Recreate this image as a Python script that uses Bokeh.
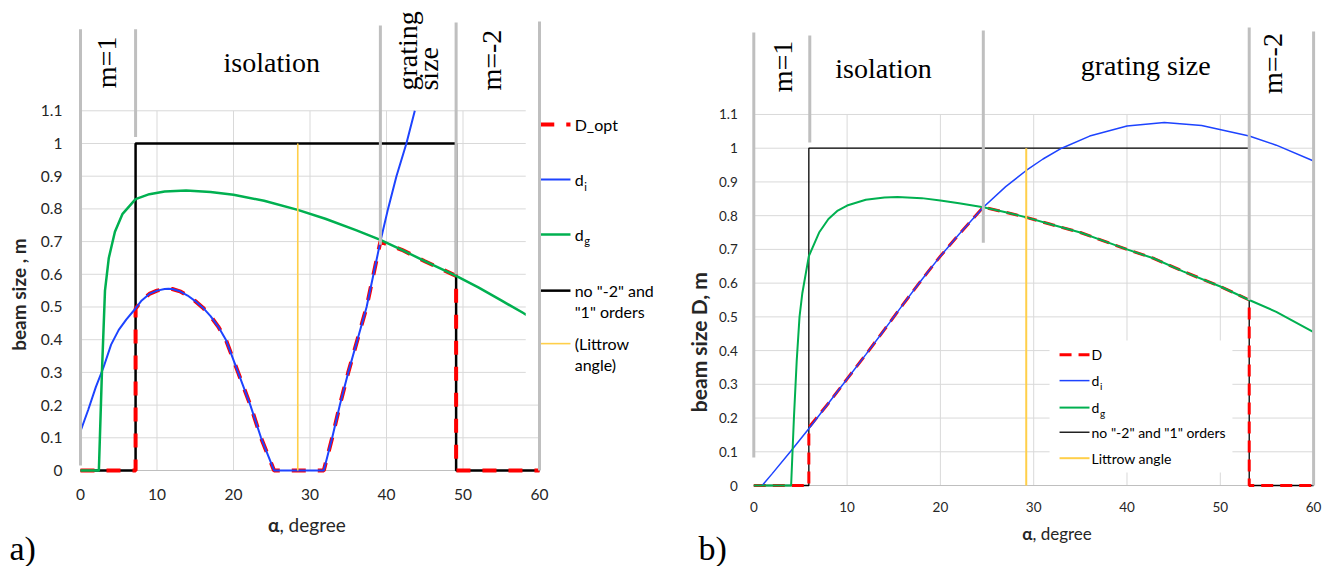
from bokeh.plotting import figure
from bokeh.layouts import row
from bokeh.models import FixedTicker, Range1d
from bokeh.embed import file_html
from bokeh.resources import INLINE
from bokeh.core.properties import value

SERIF = "Liberation Serif"
SANS = "Lato"

# ---------------- shared axis data ----------------
x_ticks = [0, 10, 20, 30, 40, 50, 60]
x_tick_labels = ["0", "10", "20", "30", "40", "50", "60"]
y_ticks = [0, 0.1, 0.2, 0.3, 0.4, 0.5, 0.6, 0.7, 0.8, 0.9, 1.0, 1.1]
y_tick_labels = ["0", "0.1", "0.2", "0.3", "0.4", "0.5", "0.6", "0.7", "0.8", "0.9", "1", "1.1"]
x_title = ["\u03b1", ", degree"]

# ---------------- panel a ----------------
a_di_alpha = [0, 1, 2, 3, 4, 5, 6, 7, 8, 9, 10, 11, 11.5, 12, 13, 14, 15, 16, 17, 18, 19, 20.6, 22.2,
              23.6, 25.3, 31.8, 32.9, 33.9, 35, 36.2, 37.4, 38.3, 39.2, 40.2, 41.3, 42.6, 43.7]
a_di = [0.12, 0.185, 0.255, 0.315, 0.385, 0.43, 0.462, 0.49, 0.52, 0.54, 0.55, 0.555, 0.556, 0.555,
        0.548, 0.535, 0.518, 0.498, 0.472, 0.44, 0.4, 0.3, 0.2, 0.1, 0, 0, 0.1, 0.2, 0.3, 0.4, 0.5,
        0.6, 0.7, 0.8, 0.9, 1.0, 1.1]
a_dg_alpha = [0, 2.4, 2.8, 3.2, 3.7, 4.5, 5.5, 7.2, 9, 11, 13.8, 17, 20, 24, 28.4, 32, 36, 39.2, 42,
              45, 49.1, 52, 55, 58, 60]
a_dg = [0, 0, 0.3, 0.55, 0.65, 0.73, 0.785, 0.83, 0.845, 0.853, 0.856, 0.852, 0.843, 0.825, 0.797,
        0.77, 0.735, 0.705, 0.675, 0.64, 0.595, 0.56, 0.52, 0.48, 0.455]
a_D_alpha = [0, 7.2, 7.2, 8, 9, 10, 11, 11.5, 12, 13, 14, 15, 16, 17, 18, 19, 20.6, 22.2, 23.6, 25.3,
             31.8, 32.9, 33.9, 35, 36.2, 37.4, 38.3, 39.2, 42, 45, 49.1, 49.1, 60]
a_D = [0, 0, 0.495, 0.52, 0.54, 0.55, 0.555, 0.556, 0.555, 0.548, 0.535, 0.518, 0.498, 0.472, 0.44,
       0.4, 0.3, 0.2, 0.1, 0, 0, 0.1, 0.2, 0.3, 0.4, 0.5, 0.6, 0.7, 0.675, 0.64, 0.595, 0, 0]
a_box_alpha = [0, 7.2, 7.2, 49.1, 49.1, 60]
a_box = [0, 0, 1, 1, 0, 0]
a_littrow = 28.4
a_region_alpha = [0, 7.2, 39.2, 49.1, 60]
a_region_bottom = [0.015, 1.02, 0.69, 0.6, 0]
a_region_top = [1.349, 1.349, 1.361, 1.37, 1.373]
a_legend_labels = [["D_opt"], ["d", "i"], ["d", "g"], ['no "-2" and', '"1" orders'], ["(Littrow", "angle)"]]

# ---------------- panel b ----------------
b_di_alpha = [0.9, 2, 4, 6, 8, 10, 12, 14, 16, 18, 20, 22, 24.6, 27, 29.2, 31, 33, 36, 40, 44, 48,
              53.1, 56, 60]
b_di = [0, 0.036, 0.103, 0.172, 0.244, 0.316, 0.388, 0.462, 0.537, 0.61, 0.68, 0.745, 0.825, 0.886,
        0.934, 0.968, 1.0, 1.036, 1.066, 1.076, 1.067, 1.036, 1.009, 0.962]
b_dg_alpha = [0, 4.0, 4.3, 4.6, 4.9, 5.2, 5.9, 7, 8, 9, 10, 12, 14, 15.4, 18, 20, 22, 24.6, 27, 29.2,
              32, 35, 38, 40, 42.9, 46, 50, 53.1, 56, 60]
b_dg = [0, 0, 0.2, 0.37, 0.5, 0.57, 0.68, 0.75, 0.79, 0.815, 0.83, 0.847, 0.854, 0.855, 0.852, 0.845,
        0.837, 0.825, 0.81, 0.795, 0.773, 0.75, 0.72, 0.7, 0.673, 0.635, 0.59, 0.55, 0.515, 0.455]
b_D_alpha = [0, 5.9, 5.9, 8, 10, 12, 14, 16, 18, 20, 22, 24.6, 27, 29.2, 32, 35, 38, 40, 42.9, 46, 50,
             53.1, 53.1, 60]
b_D = [0, 0, 0.172, 0.244, 0.316, 0.388, 0.462, 0.537, 0.61, 0.68, 0.745, 0.825, 0.81, 0.795, 0.773,
       0.75, 0.72, 0.7, 0.673, 0.635, 0.59, 0.55, 0, 0]
b_box_alpha = [0, 5.9, 5.9, 53.1, 53.1, 60]
b_box = [0, 0, 1, 1, 0, 0]
b_littrow = 29.2
b_region_alpha = [0, 6.0, 24.6, 53.1, 60]
b_region_bottom = [0.083, 1.017, 0.72, 0.55, 0]
b_region_top = [1.343, 1.334, 1.349, 1.358, 1.346]
b_legend_labels = [["D"], ["d", "i"], ["d", "g"], ['no "-2" and "1" orders'], ["Littrow angle"]]

RED, BLUE, GREEN, BLACK, YEL = "#ff0000", "#1d43ff", "#00b050", "#000000", "#ffcf4a"
GRAY, GRID = "#bfbfbf", "#d9d9d9"
H = 566

cfg_a = dict(
    w=680, xr=(-10.458, 78.431), yr=(-0.2936, 1.4373),
    tick_size="15.5px", ystand=18, xstand=19,
    di=(a_di_alpha, a_di), dg=(a_dg_alpha, a_dg), D=(a_D_alpha, a_D), box=(a_box_alpha, a_box),
    littrow=a_littrow, reg=(a_region_alpha, a_region_bottom, a_region_top),
    widths=dict(D=4, di=2, dg=2.5, box=2.5, lit=1.6), dash="14 12",
    leg_box=(58.2, 78.431, 0.266, 1.4373), leg_x0=60.1, leg_x1=64.05, leg_tx=64.6,
    leg_y=[1.058, 0.890, 0.722, 0.550, 0.388], leg_dy=0.064, leg_labels=a_legend_labels,
    leg_font="16px", sub_font="11px", sub_dx=1.24, sub_dy=-0.02,
    ytitle="beam size , m", ytitle_pos=(-8.1, 0.538), ytitle_size="19px",
    xtitle_split=26.0, xtitle_y=-0.165, xtitle_size="19px",
    tag="a)", tag_pos=(-9.28, -0.2385),
)
cfg_b = dict(
    w=652, xr=(-7.856, 62.026), yr=(-0.2401, 1.4379),
    tick_size="13.5px", ystand=16, xstand=16,
    di=(b_di_alpha, b_di), dg=(b_dg_alpha, b_dg), D=(b_D_alpha, b_D), box=(b_box_alpha, b_box),
    littrow=b_littrow, reg=(b_region_alpha, b_region_bottom, b_region_top),
    widths=dict(D=3, di=1.5, dg=2, box=1.3, lit=2), dash="12 7",
    leg_box=(31.7, 51.3, 0.0385, 0.43), leg_x0=32.77, leg_x1=35.98, leg_tx=36.2,
    leg_y=[0.388, 0.311, 0.231, 0.158, 0.081], leg_dy=0.06, leg_labels=b_legend_labels,
    leg_font="14px", sub_font="10px", sub_dx=0.91, sub_dy=-0.016,
    ytitle="beam size D, m", ytitle_pos=(-5.93, 0.425), ytitle_size="21px",
    xtitle_split=29.87, xtitle_y=-0.142, xtitle_size="17px",
    tag="b)", tag_pos=(-5.93, -0.1868),
)


def txt(p, x, y, t, size, align="center", angle=0.0, font=SERIF, baseline="middle", style="normal",
        color="#000000"):
    p.text(x=[x], y=[y], text=[t], angle=angle, text_align=align, text_baseline=baseline,
           text_font=value(font), text_font_size=size, text_color=color, text_font_style=style)


def panel(c, region_texts):
    p = figure(width=c["w"], height=H, x_range=Range1d(*c["xr"]), y_range=Range1d(*c["yr"]),
               output_backend="svg", toolbar_location=None,
               min_border_left=0, min_border_right=0, min_border_top=0, min_border_bottom=0)
    p.outline_line_color = None
    p.background_fill_color = "white"
    p.border_fill_color = "white"
    p.xgrid.visible = False
    p.ygrid.visible = False
    p.xaxis.ticker = FixedTicker(ticks=x_ticks)
    p.xaxis.major_label_overrides = dict(zip(x_ticks, x_tick_labels))
    p.yaxis.ticker = FixedTicker(ticks=y_ticks)
    p.yaxis.major_label_overrides = dict(zip(y_ticks, y_tick_labels))
    p.xaxis.fixed_location = 0
    p.yaxis.fixed_location = 0
    for ax in (p.xaxis[0], p.yaxis[0]):
        ax.axis_line_color = None
        ax.major_tick_line_color = None
        ax.minor_tick_line_color = None
        ax.major_tick_out = 0
        ax.major_tick_in = 0
        ax.major_label_text_font = SANS
        ax.major_label_text_font_size = c["tick_size"]
        ax.major_label_text_color = "#262626"
    p.xaxis[0].major_label_standoff = c["xstand"]
    p.yaxis[0].major_label_standoff = c["ystand"]

    x_lo, x_hi = x_ticks[0], x_ticks[-1]
    y_lo, y_hi = y_ticks[0], y_ticks[-1]
    gy = y_ticks[1:]
    gx = x_ticks[1:-1]
    p.segment(x0=[x_lo] * len(gy), y0=gy, x1=[x_hi] * len(gy), y1=gy, line_color=GRID, line_width=1)
    p.segment(x0=gx, y0=[y_lo] * len(gx), x1=gx, y1=[y_hi] * len(gx), line_color=GRID, line_width=1)
    p.segment(x0=[x_lo], y0=[y_lo], x1=[x_hi], y1=[y_lo], line_color=GRAY, line_width=1.2)

    w = c["widths"]
    p.line(*c["box"], line_color=BLACK, line_width=w["box"])
    p.line(*c["D"], line_color=RED, line_width=w["D"], line_dash=c["dash"])
    p.line(*c["di"], line_color=BLUE, line_width=w["di"])
    p.line(*c["dg"], line_color=GREEN, line_width=w["dg"])
    p.segment(x0=[c["littrow"]], y0=[0], x1=[c["littrow"]], y1=[1.0], line_color=YEL, line_width=w["lit"])

    # legend
    bl, br, bb, bt = c["leg_box"]
    p.quad(left=[bl], right=[br], bottom=[bb], top=[bt], fill_color="white", line_color=None)
    styles = [(RED, w["D"], c["dash"]), (BLUE, w["di"], "solid"), (GREEN, w["dg"], "solid"),
              (BLACK, w["box"], "solid"), (YEL, w["lit"], "solid")]
    for (col, lw, dash), yy, lab in zip(styles, c["leg_y"], c["leg_labels"]):
        p.segment(x0=[c["leg_x0"]], y0=[yy], x1=[c["leg_x1"]], y1=[yy], line_color=col, line_width=lw,
                  line_dash=dash)
        if len(lab) == 2 and lab[0] == "d":
            txt(p, c["leg_tx"], yy, lab[0], c["leg_font"], align="left", font=SANS)
            txt(p, c["leg_tx"] + c["sub_dx"], yy + c["sub_dy"], lab[1], c["sub_font"], align="left", font=SANS)
        else:
            for k, line in enumerate(lab):
                txt(p, c["leg_tx"], yy - k * c["leg_dy"], line, c["leg_font"], align="left", font=SANS)

    ra, rb, rt = c["reg"]
    p.segment(x0=ra, y0=rb, x1=ra, y1=rt, line_color=GRAY, line_width=3)

    for (tx, ty, tt, al, ang) in region_texts:
        txt(p, tx, ty, tt, "28px", align=al, angle=ang)

    # axis titles and panel tag
    yx, yy = c["ytitle_pos"]
    txt(p, yx, yy, c["ytitle"], c["ytitle_size"], angle=1.5708, font=SANS, style="bold", color="#262626")
    txt(p, c["xtitle_split"], c["xtitle_y"], x_title[0], c["xtitle_size"], align="right", font=SANS,
        style="bold", color="#262626")
    txt(p, c["xtitle_split"], c["xtitle_y"], x_title[1], c["xtitle_size"], align="left", font=SANS,
        color="#262626")
    tx, ty = c["tag_pos"]
    txt(p, tx, ty, c["tag"], "34px", align="left")
    return p


HALF_PI = 1.5708
a_texts = [
    (3.4, 1.248, "m=1", "center", HALF_PI),
    (25.0, 1.248, "isolation", "center", 0.0),
    (42.7, 1.162, "grating", "left", HALF_PI),
    (45.5, 1.162, "size", "left", HALF_PI),
    (53.7, 1.162, "m=-2", "left", HALF_PI),
]
b_texts = [
    (3.1, 1.242, "m=1", "center", HALF_PI),
    (13.9, 1.236, "isolation", "center", 0.0),
    (42.0, 1.245, "grating size", "center", 0.0),
    (55.6, 1.251, "m=-2", "center", HALF_PI),
]

pa = panel(cfg_a, a_texts)
pb = panel(cfg_b, b_texts)
layout = row(pa, pb)
open("out.html", "w").write(file_html(layout, INLINE))
